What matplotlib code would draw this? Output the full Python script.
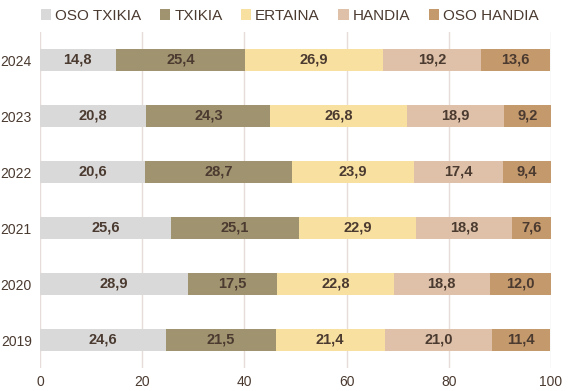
import matplotlib
matplotlib.use("Agg")
import matplotlib.pyplot as plt
import numpy as np

plt.rcParams['font.family'] = ['Liberation Sans', 'DejaVu Sans']

years = ["2024", "2023", "2022", "2021", "2020", "2019"]
series_names = ["OSO TXIKIA", "TXIKIA", "ERTAINA", "HANDIA", "OSO HANDIA"]
oso_txikia = [14.8, 20.8, 20.6, 25.6, 28.9, 24.6]
txikia = [25.4, 24.3, 28.7, 25.1, 17.5, 21.5]
ertaina = [26.9, 26.8, 23.9, 22.9, 22.8, 21.4]
handia = [19.2, 18.9, 17.4, 18.8, 18.8, 21.0]
oso_handia = [13.6, 9.2, 9.4, 7.6, 12.0, 11.4]
colors = ["#D9D9D9", "#A09370", "#F8E0A0", "#DEC1A8", "#C4996C"]
text_color = "#4A3A30"

fig = plt.figure(figsize=(5.68, 3.91), dpi=100)
ax = fig.add_axes([40/568, 23/391, 511/568, 336/391])

ypos = np.arange(len(years))[::-1]
left = np.zeros(len(years))
handles = []
for name, vals, c in zip(series_names, [oso_txikia, txikia, ertaina, handia, oso_handia], colors):
    vals = np.array(vals)
    b = ax.barh(ypos, vals, left=left, height=0.4, color=c, label=name, zorder=3)
    handles.append(b)
    for y, l, v in zip(ypos, left, vals):
        ax.text(l + v/2, y, f"{v:.1f}".replace(".", ","), ha="center", va="center",
                fontsize=10.5, fontweight="bold", color=text_color, zorder=4)
    left += vals

ax.set_xlim(0, 100)
ax.set_ylim(-0.5, 5.5)
ax.set_xticks([0, 20, 40, 60, 80, 100])
ax.set_yticks(ypos)
ax.set_yticklabels(years)
ax.tick_params(axis="both", length=0, labelsize=10, colors=text_color)
ax.tick_params(axis="x", pad=5)
ax.tick_params(axis="y", pad=6)
ax.grid(axis="x", color="#E8DCDA", linewidth=1, zorder=0)
for s in ax.spines.values():
    s.set_visible(False)

fig.legend(handles=handles, labels=series_names, loc="center", bbox_to_anchor=(0.51, 1 - 16/391),
           ncol=5, frameon=False, fontsize=11, handlelength=0.7, handleheight=0.7,
           handletextpad=0.25, columnspacing=1.2, labelcolor=text_color)

fig.savefig("out.png", dpi=100)
